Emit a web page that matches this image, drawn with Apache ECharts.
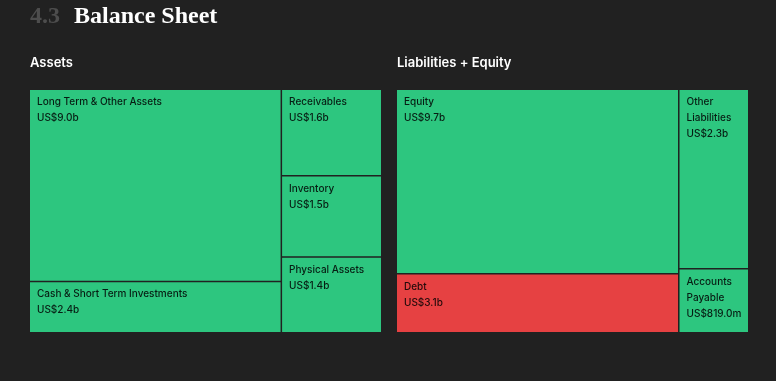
<!DOCTYPE html>
<html>
<head>
<meta charset="utf-8">
<script src="https://cdn.jsdelivr.net/npm/echarts@6/dist/echarts.min.js"></script>
<style>
  html, body { margin: 0; padding: 0; background: #212121; }
  #chart { width: 776px; height: 381px; }
</style>
</head>
<body>
<div id="chart"></div>
<script>
// ---- data ----
const assetNames = ['Long Term & Other Assets', 'Cash & Short Term Investments', 'Receivables', 'Inventory', 'Physical Assets'];
const assetValues = [9.0, 2.4, 1.6, 1.5, 1.4];            // US$ billions
const assetValueLabels = ['US$9.0b', 'US$2.4b', 'US$1.6b', 'US$1.5b', 'US$1.4b'];
const assetColumn = [0, 0, 1, 1, 1];

const liabilityNames = ['Equity', 'Debt', 'Other Liabilities', 'Accounts Payable'];
const liabilityValues = [9.7, 3.1, 2.3, 0.819];            // US$ billions
const liabilityValueLabels = ['US$9.7b', 'US$3.1b', 'US$2.3b', 'US$819.0m'];
const liabilityColumn = [0, 0, 1, 1];

// ---- styles ----
const BG = '#212121';
const GREEN = '#2dc67f';
const RED = '#e64142';
const colorFor = name => (name === 'Debt' ? RED : GREEN);
const GAP = 1.5;
const PANEL_TOP = 90;
const PANEL_H = 242;
const PANEL_W = 351;

function buildPanel(names, values, valueLabels, column, panelLeft) {
  const nCols = Math.max(...column) + 1;
  const sums = new Array(nCols).fill(0);
  values.forEach((v, i) => { sums[column[i]] += v; });
  const total = sums.reduce((a, b) => a + b, 0);
  const usable = PANEL_W - GAP * (nCols - 1);
  const series = [];
  let x = panelLeft;
  for (let c = 0; c < nCols; c++) {
    const w = usable * sums[c] / total;
    const data = [];
    values.forEach((v, i) => {
      if (column[i] === c) {
        data.push({ name: names[i], value: v, valueLabel: valueLabels[i], itemStyle: { color: colorFor(names[i]) } });
      }
    });
    series.push({
      type: 'treemap',
      left: x, top: PANEL_TOP, width: w, height: PANEL_H,
      squareRatio: c === 0 ? 3 : 1,
      sort: false,
      roam: false,
      nodeClick: false,
      animation: false,
      breadcrumb: { show: false },
      itemStyle: { borderWidth: 0, gapWidth: GAP, borderColor: BG },
      levels: [{ itemStyle: { borderWidth: 0, gapWidth: GAP, borderColor: BG } }],
      emphasis: { disabled: true },
      label: {
        show: true,
        position: 'insideTopLeft',
        padding: [4, 6, 3, 7],
        overflow: 'break',
        color: 'rgba(0,0,0,0.85)',
        fontFamily: 'Inter',
        fontSize: 10,
        fontWeight: 500,
        lineHeight: 16,
        formatter: p => p.name + '\n' + p.data.valueLabel
      },
      data: data
    });
    x += w + GAP;
  }
  return series;
}

const chart = echarts.init(document.getElementById('chart'), null, { renderer: 'canvas' });
chart.setOption({
  backgroundColor: BG,
  animation: false,
  title: [
    { text: '4.3', left: 30, top: 4, padding: 0,
      textStyle: { color: '#4d4d4d', fontFamily: 'Liberation Serif', fontSize: 24, fontWeight: 'bold', lineHeight: 26 } },
    { text: 'Balance Sheet', left: 74, top: 4, padding: 0,
      textStyle: { color: '#ffffff', fontFamily: 'Liberation Serif', fontSize: 24, fontWeight: 'bold', lineHeight: 26 } },
    { text: 'Assets', left: 30, top: 55, padding: 0,
      textStyle: { color: '#ffffff', fontFamily: 'Inter', fontSize: 13, fontWeight: 600, lineHeight: 16 } },
    { text: 'Liabilities + Equity', left: 397, top: 55, padding: 0,
      textStyle: { color: '#ffffff', fontFamily: 'Inter', fontSize: 13, fontWeight: 600, lineHeight: 16 } }
  ],
  series: [
    ...buildPanel(assetNames, assetValues, assetValueLabels, assetColumn, 30),
    ...buildPanel(liabilityNames, liabilityValues, liabilityValueLabels, liabilityColumn, 397)
  ]
});
</script>
</body>
</html>
